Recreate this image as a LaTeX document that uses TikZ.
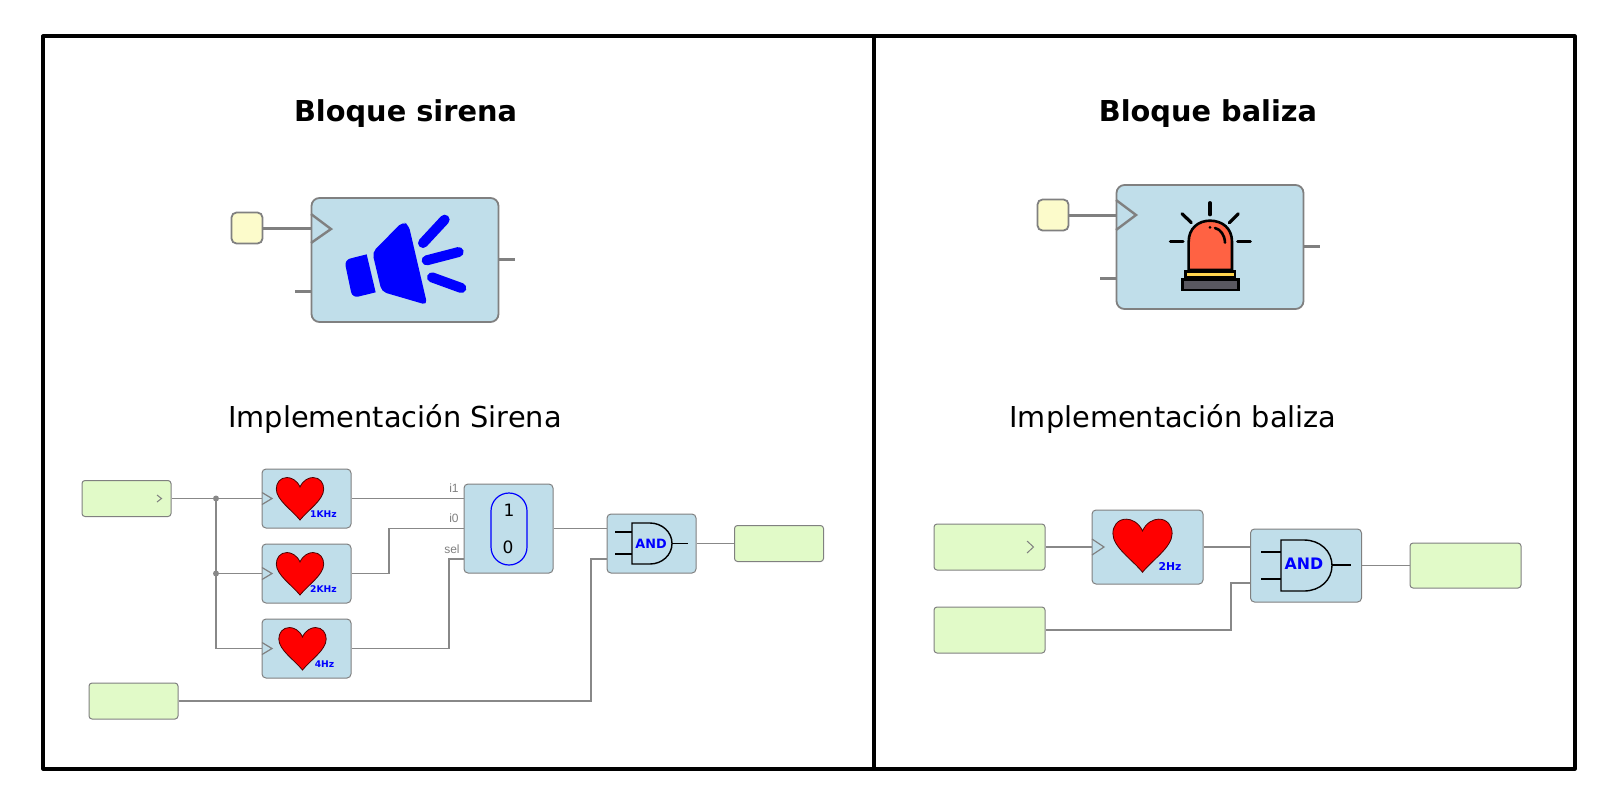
\documentclass[tikz,border=0pt]{standalone}
\usepackage{fontspec}
\setmainfont{DejaVu Sans}
\newfontfamily\labelfont{Liberation Sans}
\usepackage{tikz}
\definecolor{blockfill}{HTML}{C0DEEA}
\definecolor{wirecol}{HTML}{888888}
\definecolor{inputfill}{HTML}{E1FAC8}
\definecolor{padfill}{HTML}{FCFBCB}
\definecolor{domecol}{HTML}{FF6243}
\definecolor{basecol}{HTML}{FFD54F}
\definecolor{darkcol}{HTML}{5A5860}
\newcommand{\heartsym}[3]{%
 \filldraw[fill=red, draw=black!70!red, line width=0.4pt, shift={(#1,#2)}, scale=#3] (0,0)
  .. controls (3,-7) and (9,-9.5) .. (13,-9.5) .. controls (20,-9.5) and (23.7,-4) .. (23.7,2)
  .. controls (23.7,13) and (8,23) .. (0,33) .. controls (-8,23) and (-23.7,13) .. (-23.7,2)
  .. controls (-23.7,-4) and (-20,-9.5) .. (-13,-9.5) .. controls (-9,-9.5) and (-3,-7) .. (0,0) -- cycle;}
\tikzset{
 block/.style={draw=gray, fill=blockfill, rounded corners=2pt, line width=0.5pt, inner sep=0pt},
 bigblock/.style={block, line width=0.9pt, rounded corners=4pt},
 inbox/.style={draw=gray, fill=inputfill, rounded corners=1.5pt, line width=0.5pt, inner sep=0pt},
 pad/.style={draw=gray, fill=padfill, rounded corners=2.5pt, line width=0.9pt, inner sep=0pt, minimum width=15.5pt, minimum height=15.5pt},
 wire/.style={draw=wirecol, line width=0.6pt},
 bigwire/.style={draw=gray, line width=1.5pt},
 tip/.style={draw=gray, line width=0.6pt},
 bigtip/.style={draw=gray, line width=1.2pt},
 title/.style={font=\fontsize{14.4}{16}\selectfont\bfseries},
 subtitle/.style={font=\fontsize{14.4}{16}\selectfont},
 freq/.style={text=blue, inner sep=0pt, font=\fontsize{4.6}{5}\selectfont\bfseries},
 pin/.style={text=gray, inner sep=0pt, font=\fontsize{6}{7}\selectfont\labelfont},
 gate/.style={draw=black, line width=0.7pt},
 icon/.style={draw=blue, line width=5pt, line cap=round},
 alarm/.style={draw=black, line width=1.3pt}
}
\begin{document}
\begin{tikzpicture}[x=0.5pt, y=-0.5pt]
\useasboundingbox (0,0) rectangle (1616,800);

% marco
\draw[line width=1.6pt, line join=round] (43,36) rectangle (1575,769);
\draw[line width=1.6pt] (874,36) -- (874,769);

% titulos
\node[title] (titsirena) at (405.5,113.5) {Bloque sirena};
\node[title] (titbaliza) at (1208,113.5) {Bloque baliza};
\node[subtitle] (impsirena) at (395,419) {Implementación Sirena};
\node[subtitle] (impbaliza) at (1173,419) {Implementación baliza};

% bloque sirena
\node[bigblock, minimum width=93.5pt, minimum height=62pt] (sirena) at (405,260) {};
\node[pad] (padsirena) at (247,228) {};
\coordinate (sirclk) at (311,228);
\coordinate (sirin) at (311,291);
\coordinate (sirinfree) at (295,291);
\coordinate (sirout) at (499,259);
\coordinate (siroutfree) at (515,259);
\draw[bigwire] (padsirena.east) -- (sirclk);
\draw[bigwire] (sirinfree) -- (sirin);
\draw[bigwire] (sirout) -- (siroutfree);
\draw[bigtip] (311,214) -- (331,229) -- (311,243);
\begin{scope}[shift={(200,170)}, scale=1/3]
 \fill[blue, rounded corners=2.5pt] (517,247) -- (608,155) -- (626,165) -- (682,405) -- (545,365) -- cycle;
 \fill[blue] (527,367) -- (500,253) [rounded corners=3pt] -- (433,270) -- (457,384) [sharp corners] -- cycle;
 \draw[icon] (669,219) -- (734,149);
 \draw[icon] (680,271) -- (776,246);
 \draw[icon] (696,322) -- (784,354);
\end{scope}

% bloque baliza
\node[bigblock, minimum width=93.5pt, minimum height=62pt] (baliza) at (1210,247) {};
\node[pad] (padbaliza) at (1053,215) {};
\coordinate (balclk) at (1116,215);
\coordinate (balin) at (1116,278);
\coordinate (balinfree) at (1100,278);
\coordinate (balout) at (1304,246);
\coordinate (baloutfree) at (1320,246);
\draw[bigwire] (padbaliza.east) -- (balclk);
\draw[bigwire] (balinfree) -- (balin);
\draw[bigwire] (balout) -- (baloutfree);
\draw[bigtip] (1116,200) -- (1136,215) -- (1116,230);
\begin{scope}[shift={(990,170)}, scale=1/3]
 \draw[alarm, line width=1.6pt, line cap=round] (660,98) -- (660,134);
 \draw[alarm, line width=1.6pt, line cap=round] (576,131) -- (604,158);
 \draw[alarm, line width=1.6pt, line cap=round] (745,131) -- (718,158);
 \draw[alarm, line width=1.6pt, line cap=round] (541,215) -- (579,215);
 \draw[alarm, line width=1.6pt, line cap=round] (743,215) -- (781,215);
 \filldraw[alarm, fill=domecol] (596,300) -- (596,215) .. controls (596,175) and (625,152) .. (660,152) .. controls (697,152) and (726,175) .. (726,215) -- (726,300) -- cycle;
 \filldraw[alarm, fill=basecol] (587,323) -- (587,304) -- (735,304) -- (735,323) -- cycle;
 \filldraw[alarm, fill=darkcol] (578,328) -- (745,328) -- (745,360) -- (578,360) -- cycle;
 \draw[alarm, line cap=round] (675,174) .. controls (692,178) and (704,195) .. (705,218);
 \fill (660,172) circle (4.5);
\end{scope}

% implementacion sirena
\node[inbox, minimum width=44.5pt, minimum height=18pt] (insirena) at (126.5,498.5) {};
\node[inbox, minimum width=44.5pt, minimum height=18pt] (ensirena) at (133.5,701) {};
\node[inbox, minimum width=44.5pt, minimum height=18pt] (outsirena) at (779,543.5) {};
\node[block, minimum width=44.5pt, minimum height=29.5pt] (clkA) at (306.5,498.5) {};
\node[block, minimum width=44.5pt, minimum height=29.5pt] (clkB) at (306.5,573.5) {};
\node[block, minimum width=44.5pt, minimum height=29.5pt] (clkC) at (306.5,648.5) {};
\node[block, minimum width=44.5pt, minimum height=44.5pt] (mux) at (508.5,528.5) {};
\node[block, minimum width=44.5pt, minimum height=29.5pt] (andsirena) at (651.5,543.5) {};
\coordinate (busA) at (216,498.5);
\coordinate (busB) at (216,573.5);
\coordinate (busC) at (216,648.5);
\coordinate (muxi1) at (464,498.5);
\coordinate (muxi0) at (464,528.5);
\coordinate (muxsel) at (464,559);
\coordinate (andi1) at (607,528.5);
\coordinate (andi0) at (607,559);
\draw[wire] (insirena.east) -- (clkA.west);
\draw[wire] (busA) -- (busC) -- (clkC.west);
\draw[wire] (busB) -- (clkB.west);
\fill[wirecol] (busA) circle (3) (busB) circle (3);
\draw[wire] (clkA.east) -- (muxi1);
\draw[wire] (clkB.east) -- (389,573.5) -- (389,528.5) -- (muxi0);
\draw[wire] (clkC.east) -- (449,648.5) -- (449,559) -- (muxsel);
\draw[wire] (mux.east) -- (andi1);
\draw[wire] (ensirena.east) -- (591,701) -- (591,559) -- (andi0);
\draw[wire] (andsirena.east) -- (outsirena.west);
\draw[tip, line width=0.5pt] (157,495) -- (161.5,498.5) -- (157,502);
\foreach \y in {498.5,573.5,648.5} {
 \draw[tip] (262,\y-6) -- (272,\y) -- (262,\y+6);
}
\heartsym{300}{487}{1}
\heartsym{300}{562}{1}
\heartsym{302.5}{637}{1}
\node[freq] (fA) at (323.5,514) {1KHz};
\node[freq] (fB) at (323.5,589) {2KHz};
\node[freq] (fC) at (324.5,664) {4Hz};
\node[pin, anchor=east] (pini1) at (459,488.5) {i1};
\node[pin, anchor=east] (pini0) at (459,518.5) {i0};
\node[pin, anchor=east] (pinsel) at (460,549.5) {sel};
\node[draw=blue, line width=0.6pt, rounded corners=9pt, minimum width=18pt, minimum height=36pt, inner sep=0pt] (muxpill) at (509,529) {};
\node[inner sep=0pt, font=\fontsize{8.5}{10}\selectfont] (muxone) at (509,510) {1};
\node[inner sep=0pt, font=\fontsize{8.5}{10}\selectfont] (muxzero) at (508,547) {0};
\draw[gate] (615,532) -- (632,532) (615,554) -- (632,554) (672,543.5) -- (688,543.5);
\draw[gate] (632,523) -- (650,523) .. controls (662,523) and (672,532) .. (672,543.5) .. controls (672,555) and (662,564) .. (650,564) -- (632,564) -- cycle;
\node[inner sep=0pt, text=blue, font=\fontsize{6.4}{8}\selectfont\bfseries] (andtxtA) at (651,543.5) {AND};

% implementacion baliza
\node[inbox, minimum width=55.5pt, minimum height=23pt] (inbaliza) at (989.5,547) {};
\node[inbox, minimum width=55.5pt, minimum height=23pt] (enbaliza) at (989.5,630) {};
\node[inbox, minimum width=55.5pt, minimum height=22.5pt] (outbaliza) at (1465.5,565.5) {};
\node[block, minimum width=55.5pt, minimum height=37pt] (clkD) at (1147.5,547) {};
\node[block, minimum width=55.5pt, minimum height=36.5pt] (andbaliza) at (1306,565.5) {};
\coordinate (andb1) at (1250,547);
\coordinate (andb0) at (1250,583);
\draw[wire] (inbaliza.east) -- (clkD.west);
\draw[wire] (clkD.east) -- (andb1);
\draw[wire] (enbaliza.east) -- (1231,630) -- (1231,583) -- (andb0);
\draw[wire] (andbaliza.east) -- (outbaliza.west);
\draw[tip, line width=0.5pt] (1027,541) -- (1033.5,547) -- (1027,553);
\draw[tip] (1092,539) -- (1104,547) -- (1092,555);
\heartsym{1142.5}{531}{1.25}
\node[freq, font=\fontsize{5.4}{6}\selectfont\bfseries] (fD) at (1170,566) {2Hz};
\draw[gate] (1261,552) -- (1281,552) (1261,579) -- (1281,579) (1332,565) -- (1351,565);
\draw[gate] (1281,540) -- (1304,540) .. controls (1320,540) and (1332,551) .. (1332,565.5) .. controls (1332,580) and (1320,591) .. (1304,591) -- (1281,591) -- cycle;
\node[inner sep=0pt, text=blue, font=\fontsize{7.9}{10}\selectfont\bfseries] (andtxtB) at (1304,564) {AND};
\end{tikzpicture}
\end{document}
